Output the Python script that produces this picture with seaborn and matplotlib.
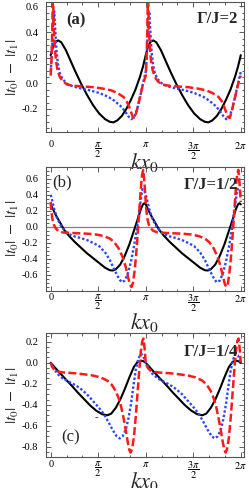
import numpy as np
import pandas as pd
import matplotlib
matplotlib.use("Agg")
import matplotlib.pyplot as plt
import seaborn as sns
from matplotlib.ticker import MultipleLocator, FixedLocator

sns.set_style("ticks")
plt.rcParams['font.family'] = ['Liberation Serif', 'DejaVu Serif']
plt.rcParams['mathtext.fontset'] = 'stix'
plt.rcParams['axes.unicode_minus'] = False

PI = np.pi

#-------------------------------------------------
# values read off one period [0, pi]; the curves repeat with period pi

# (a) Gamma/J = 2
kx_a_black = [0, 0.08, 0.16, 0.25, 0.35, 0.5, 0.65, 0.8, 1.0, 1.2, 1.4, 1.6, 1.8, 1.95, 2.07, 2.2, 2.35, 2.5, 2.65, 2.8, 2.95, 3.05, PI]
t_a_black = [0.22, 0.29, 0.325, 0.335, 0.32, 0.26, 0.18, 0.10, 0.0, -0.09, -0.17, -0.235, -0.28, -0.30, -0.305, -0.29, -0.255, -0.20, -0.13, -0.05, 0.05, 0.13, 0.22]
kx_a_blue = [0, 0.03, 0.06, 0.09, 0.12, 0.15, 0.19, 0.24, 0.3, 0.4, 0.55, 0.75, 1.0, 1.3, 1.6, 1.9, 2.1, 2.3, 2.45, 2.56, 2.66, 2.76, 2.86, 2.96, 3.05, PI]
t_a_blue = [0.09, 0.2, 0.36, 0.52, 0.56, 0.42, 0.26, 0.15, 0.08, 0.03, -0.005, -0.025, -0.04, -0.055, -0.075, -0.105, -0.135, -0.175, -0.215, -0.255, -0.28, -0.265, -0.2, -0.1, 0.0, 0.09]
kx_a_red = [0, 0.03, 0.05, 0.07, 0.085, 0.1, 0.13, 0.17, 0.22, 0.3, 0.4, 0.55, 0.8, 1.1, 1.4, 1.7, 2.0, 2.2, 2.4, 2.5, 2.58, 2.65, 2.72, 2.78, 2.85, 2.93, 3.0, 3.06, 3.1, PI]
t_a_red = [0.06, 0.2, 0.4, 0.64, 0.62, 0.45, 0.3, 0.19, 0.11, 0.05, 0.015, -0.01, -0.02, -0.025, -0.03, -0.04, -0.055, -0.075, -0.105, -0.135, -0.175, -0.22, -0.265, -0.27, -0.21, -0.13, -0.06, 0.0, 0.03, 0.06]

# (b) Gamma/J = 1/2
kx_b_black = [0, 0.15, 0.3, 0.45, 0.6, 0.8, 1.0, 1.2, 1.4, 1.6, 1.8, 1.95, 2.05, 2.15, 2.3, 2.45, 2.6, 2.75, 2.88, 2.98, 3.05, 3.1, PI]
t_b_black = [0.28, 0.16, 0.06, -0.04, -0.11, -0.19, -0.26, -0.33, -0.39, -0.45, -0.51, -0.54, -0.545, -0.53, -0.47, -0.36, -0.22, -0.05, 0.1, 0.22, 0.28, 0.295, 0.28]
kx_b_blue = [0, 0.05, 0.11, 0.2, 0.33, 0.45, 0.6, 0.8, 1.0, 1.2, 1.4, 1.6, 1.8, 1.95, 2.1, 2.22, 2.34, 2.45, 2.55, 2.65, 2.75, 2.85, 2.95, 3.03, 3.09, PI]
t_b_blue = [0.40, 0.33, 0.23, 0.12, 0.02, -0.04, -0.09, -0.12, -0.14, -0.165, -0.2, -0.24, -0.32, -0.41, -0.53, -0.62, -0.69, -0.67, -0.58, -0.44, -0.25, -0.02, 0.26, 0.47, 0.46, 0.40]
kx_b_red = [0, 0.025, 0.05, 0.1, 0.17, 0.25, 0.4, 0.6, 0.9, 1.2, 1.5, 1.75, 1.95, 2.1, 2.25, 2.38, 2.48, 2.56, 2.62, 2.67, 2.72, 2.77, 2.82, 2.87, 2.92, 2.97, 3.02, 3.06, 3.1, PI]
t_b_red = [0.31, 0.2, 0.11, 0.03, -0.02, -0.05, -0.07, -0.075, -0.08, -0.085, -0.095, -0.115, -0.145, -0.19, -0.27, -0.38, -0.5, -0.63, -0.72, -0.75, -0.7, -0.56, -0.37, -0.12, 0.15, 0.43, 0.65, 0.71, 0.55, 0.31]

# (c) Gamma/J = 1/4
kx_c_black = [0, 0.2, 0.44, 0.7, 0.9, 1.1, 1.3, 1.5, 1.7, 1.87, 2.0, 2.15, 2.3, 2.45, 2.6, 2.75, 2.88, 2.98, 3.06, PI]
t_c_black = [0.0, -0.065, -0.14, -0.22, -0.285, -0.345, -0.405, -0.455, -0.49, -0.5, -0.485, -0.43, -0.35, -0.25, -0.14, -0.04, 0.01, 0.02, 0.015, 0.0]
kx_c_blue = [0, 0.1, 0.22, 0.4, 0.66, 0.85, 1.0, 1.2, 1.43, 1.6, 1.76, 1.9, 2.05, 2.18, 2.28, 2.38, 2.48, 2.57, 2.65, 2.73, 2.81, 2.9, 2.98, 3.05, PI]
t_c_blue = [0.0, -0.05, -0.105, -0.15, -0.19, -0.22, -0.25, -0.3, -0.375, -0.43, -0.49, -0.56, -0.64, -0.7, -0.72, -0.7, -0.64, -0.53, -0.4, -0.23, -0.07, 0.04, 0.085, 0.07, 0.0]
kx_c_red = [0, 0.05, 0.1, 0.17, 0.3, 0.5, 0.8, 1.1, 1.4, 1.65, 1.87, 2.02, 2.15, 2.25, 2.33, 2.41, 2.48, 2.55, 2.6, 2.64, 2.69, 2.75, 2.81, 2.86, 2.92, 2.98, 3.03, 3.07, 3.11, PI]
t_c_red = [0.0, -0.04, -0.06, -0.076, -0.088, -0.095, -0.10, -0.11, -0.122, -0.14, -0.17, -0.21, -0.27, -0.34, -0.42, -0.53, -0.64, -0.76, -0.83, -0.855, -0.82, -0.71, -0.52, -0.33, -0.1, 0.11, 0.21, 0.23, 0.12, 0.0]

panel_labels = ['(a)', '(b)', '(c)']
gamma_labels = ['Γ/J=2', 'Γ/J=1/2', 'Γ/J=1/4']
y_limits = [(-0.38, 0.635), (-0.80, 0.75), (-0.90, 0.28)]
y_ticks = [[-0.2, 0.0, 0.2, 0.4, 0.6],
           [-0.6, -0.4, -0.2, 0.0, 0.2, 0.4, 0.6],
           [-0.8, -0.6, -0.4, -0.2, 0.0, 0.2]]
x_ticks = [0, PI / 2, PI, 3 * PI / 2, 2 * PI]
x_ticklabels = ['0', r'$\dfrac{\pi}{2}$', r'$\pi$', r'$\dfrac{3\pi}{2}$', r'$2\pi$']

curves = {
    'a': [(kx_a_black, t_a_black), (kx_a_blue, t_a_blue), (kx_a_red, t_a_red)],
    'b': [(kx_b_black, t_b_black), (kx_b_blue, t_b_blue), (kx_b_red, t_b_red)],
    'c': [(kx_c_black, t_c_black), (kx_c_blue, t_c_blue), (kx_c_red, t_c_red)],
}
names = ['black', 'blue', 'red']

rows = []
for p, lst in curves.items():
    for name, (kx, t) in zip(names, lst):
        for period in range(2):
            for i, (x, y) in enumerate(zip(kx, t)):
                if period == 1 and i == 0:
                    continue
                rows.append({'panel': p, 'curve': name, 'kx': x + period * PI, 'val': y})
data_df = pd.DataFrame(rows)

#-------------------------------------------------
# plot creation
W, H = 249, 488
fig = plt.figure(figsize=(W / 100, H / 100), dpi=100)

# axes boxes in pixels: left, right, top, bottom
boxes = [(46, 244, 2, 132), (46, 244, 166.7, 291), (46, 244, 333.3, 457.3)]
xpads = [6.0, 1.5, 2.0]
xlabel_y = [-0.145, -0.16, -0.1]

styles = {
    'black': dict(color='black', lw=1.5, linestyle='-'),
    'blue': dict(color='#2a46ff', lw=1.7, linestyle=(0, (1.0, 0.9))),
    'red': dict(color='#ff1a1a', lw=1.8, linestyle=(0, (3.2, 1.3))),
}

axes = []
for k, p in enumerate(['a', 'b', 'c']):
    l, r, t, b = boxes[k]
    ax = fig.add_axes([l / W, 1 - b / H, (r - l) / W, (b - t) / H])
    ax.set_facecolor('none')
    axes.append(ax)
    if p == 'b':
        ax.axhline(0, color='#808080', lw=0.9, zorder=1)
    sub = data_df.loc[data_df.panel == p]
    for name in names:
        d = sub.loc[sub.curve == name]
        sns.lineplot(data=d, x='kx', y='val', ax=ax, estimator=None, sort=True, **styles[name])
    ax.set_xlim(-0.155, 6.39)
    ax.set_ylim(*y_limits[k])
    ax.xaxis.set_major_locator(FixedLocator(x_ticks))
    ax.set_xticklabels(x_ticklabels)
    ax.xaxis.set_minor_locator(MultipleLocator(PI / 6))
    ax.set_yticks(y_ticks[k])
    ax.set_yticklabels(['%.1f' % v for v in y_ticks[k]])
    ax.yaxis.set_minor_locator(MultipleLocator(0.05))
    ax.tick_params(which='both', direction='in', top=True, right=True, colors='#444444',
                   labelcolor='black', labelsize=7.5, width=0.6)
    ax.tick_params(which='major', length=3.5)
    ax.tick_params(which='minor', length=1.8)
    ax.tick_params(axis='x', pad=xpads[k])
    ax.tick_params(axis='y', pad=5.5)
    for s in ax.spines.values():
        s.set_color('#555555')
        s.set_linewidth(0.8)
    ax.set_xlabel(r'$kx_0$', fontsize=16, va='top')
    ax.xaxis.set_label_coords(0.5, xlabel_y[k])
    ax.set_ylabel(r'$|t_0|\;-\;|t_1|$', fontsize=11.5)
    ax.yaxis.set_label_coords(-0.125, 0.5)

axes[0].text(0.152, 0.862, panel_labels[0], transform=axes[0].transAxes, fontsize=12,
             fontweight='bold', ha='center', va='center')
axes[1].text(0.081, 0.877, panel_labels[1], transform=axes[1].transAxes, fontsize=12,
             ha='center', va='center')
axes[2].text(0.126, 0.164, panel_labels[2], transform=axes[2].transAxes, fontsize=12,
             ha='center', va='center')
gamma_y = [0.873, 0.853, 0.85]
for k, ax in enumerate(axes):
    ax.text(0.97, gamma_y[k], gamma_labels[k], transform=ax.transAxes, fontsize=12,
            fontweight='bold', ha='right', va='center')

# stray mark in panel (c)
fig.text(96 / W, 1 - 418 / H, '-', fontsize=8, ha='center', va='center')

fig.savefig('out.png', dpi=100)
